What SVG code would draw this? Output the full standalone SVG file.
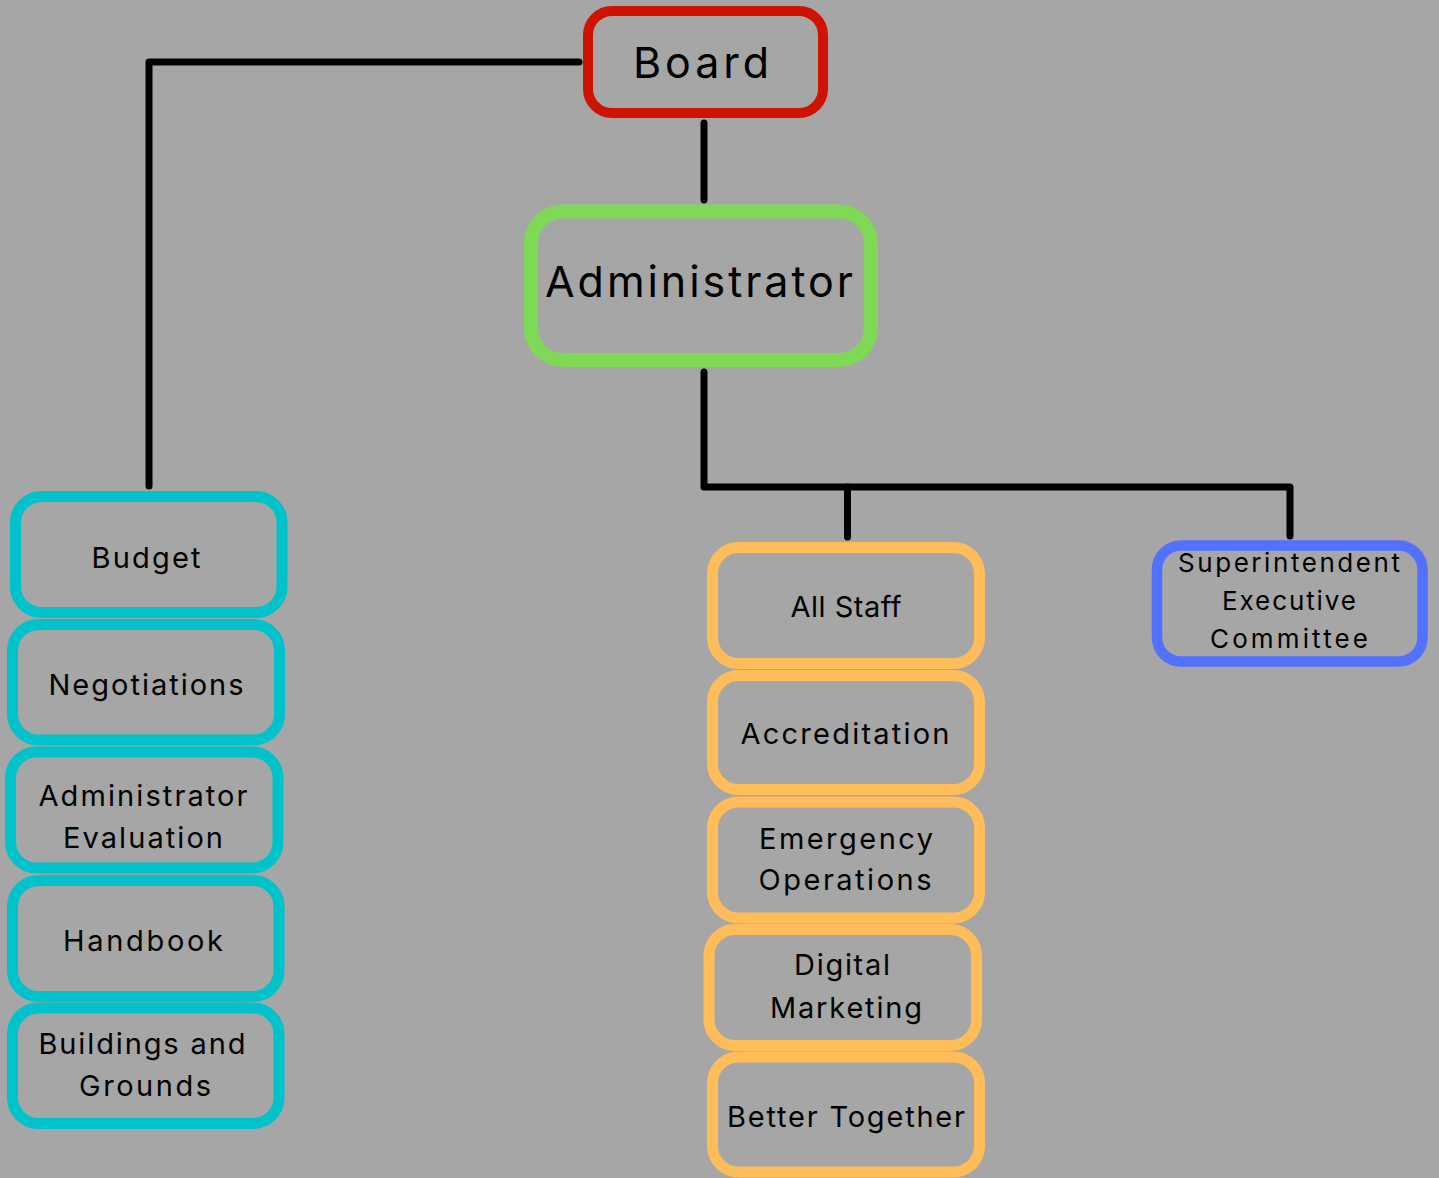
<svg xmlns="http://www.w3.org/2000/svg" width="1439" height="1178" viewBox="0 0 1439 1178">
<style>
.bg{fill:#A6A6A6}
.box{fill:none}
.red{stroke:#CE1300;stroke-width:10}
.green{stroke:#7ED957;stroke-width:14}
.cyan{stroke:#00C2CB;stroke-width:11}
.orange{stroke:#FFBD59;stroke-width:11}
.blue{stroke:#5271FF;stroke-width:10.5}
text{font-family:Inter,"Noto Sans","Liberation Sans",sans-serif;fill:#000;text-anchor:middle}
.big{font-size:43px}
.mid{font-size:29px}
.sm{font-size:26px}
.conn{fill:none;stroke:#000;stroke-width:7;stroke-linecap:round;stroke-linejoin:round}
</style>
<rect class="bg" x="0" y="0" width="1439" height="1178"/>
<g id="connectors">
<path class="conn" d="M579,62 H149 V486"/>
<path class="conn" d="M704,123 V200"/>
<path class="conn" d="M704,372 V487 H1290 V536"/>
<path class="conn" d="M847.5,487 V537"/>
</g>
<g id="board">
<rect class="box red" x="588" y="11" width="235" height="102" rx="24"/>
<text class="big" x="701" y="78" textLength="136">Board</text>
</g>
<g id="administrator">
<rect class="box green" x="531" y="211.5" width="340" height="148.5" rx="32"/>
<text class="big" x="699" y="297" textLength="308">Administrator</text>
</g>
<g id="budget">
<rect class="box cyan" x="15.5" y="496.5" width="266.5" height="116" rx="26"/>
<text class="mid" x="146" y="568" textLength="109">Budget</text>
</g>
<g id="negotiations">
<rect class="box cyan" x="12.5" y="624.5" width="267" height="115.5" rx="26"/>
<text class="mid" x="146" y="695" textLength="195">Negotiations</text>
</g>
<g id="admin-evaluation">
<rect class="box cyan" x="10.5" y="752" width="267.5" height="116" rx="26"/>
<text class="mid" x="143" y="806" textLength="209">Administrator</text>
<text class="mid" x="143" y="848" textLength="160">Evaluation</text>
</g>
<g id="handbook">
<rect class="box cyan" x="12.5" y="880.5" width="266.5" height="116" rx="26"/>
<text class="mid" x="143" y="951" textLength="160">Handbook</text>
</g>
<g id="buildings">
<rect class="box cyan" x="12.5" y="1008" width="266.5" height="115.5" rx="26"/>
<text class="mid" x="142" y="1054" textLength="207">Buildings and</text>
<text class="mid" x="145" y="1096" textLength="132">Grounds</text>
</g>
<g id="all-staff">
<rect class="box orange" x="712.5" y="547.5" width="267" height="116" rx="26"/>
<text class="mid" x="846" y="617" textLength="111">All Staff</text>
</g>
<g id="accreditation">
<rect class="box orange" x="712.5" y="675.5" width="267" height="114" rx="26"/>
<text class="mid" x="845" y="744" textLength="209">Accreditation</text>
</g>
<g id="emergency">
<rect class="box orange" x="712.5" y="802" width="267" height="116" rx="26"/>
<text class="mid" x="846" y="849" textLength="174">Emergency</text>
<text class="mid" x="845" y="890" textLength="173">Operations</text>
</g>
<g id="digital-marketing">
<rect class="box orange" x="709" y="929.5" width="267.5" height="116" rx="26"/>
<text class="mid" x="842" y="975" textLength="96">Digital</text>
<text class="mid" x="846" y="1018" textLength="152">Marketing</text>
</g>
<g id="better-together">
<rect class="box orange" x="712.5" y="1057" width="267" height="115" rx="26"/>
<text class="mid" x="846" y="1127" textLength="238">Better Together</text>
</g>
<g id="superintendent">
<rect class="box blue" x="1157" y="545.5" width="265.5" height="116" rx="24"/>
<text class="sm" x="1289" y="572" textLength="222">Superintendent</text>
<text class="sm" x="1289" y="610" textLength="134">Executive</text>
<text class="sm" x="1289" y="648" textLength="158">Committee</text>
</g>
</svg>
